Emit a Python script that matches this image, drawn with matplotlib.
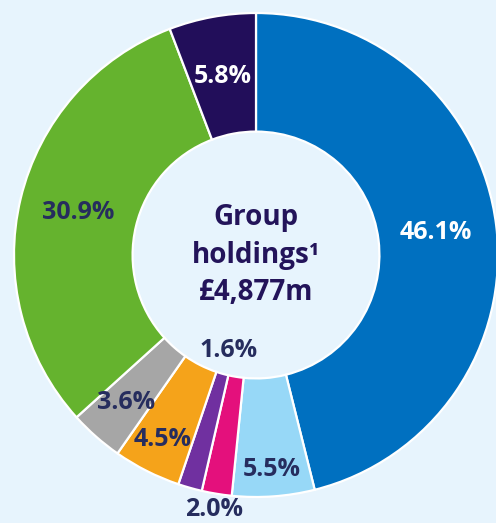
import numpy as np
import matplotlib
matplotlib.use("Agg")
import matplotlib.pyplot as plt

# share of group holdings, clockwise from 12 o'clock
shares = [46.1, 5.5, 2.0, 1.6, 4.5, 3.6, 30.9, 5.8]
pct_labels = ["46.1%", "5.5%", "2.0%", "1.6%", "4.5%", "3.6%", "30.9%", "5.8%"]
colours = ["#0070c0", "#97d8f7", "#e4107c", "#7030a0", "#f5a31a", "#a6a6a6", "#65b32e", "#220e5a"]
label_colours = ["white", "#262d5e", "#262d5e", "#262d5e", "#262d5e", "#262d5e", "#262d5e", "white"]
label_radius = [0.75, 0.89, 1.065, 0.41, 0.855, 0.81, 0.755, 0.75]
centre_text = "Group\nholdings\u00b9\n\u00a34,877m"

bg = "#e7f4fd"

fig = plt.figure(figsize=(4.96, 5.23), dpi=100, facecolor=bg)
ax = fig.add_axes([14 / 496, 26 / 523, 484 / 496, 484 / 523])
ax.set_facecolor(bg)

wedges, _ = ax.pie(shares, colors=colours, startangle=90, counterclock=False,
                   radius=1.0, wedgeprops=dict(width=0.49, edgecolor="white", linewidth=1.6))

total = sum(shares)
cum = 0
for val, lab, col, r in zip(shares, pct_labels, label_colours, label_radius):
    mid = cum + val / 2
    ang = np.deg2rad(90 - mid / total * 360)
    ax.text(r * np.cos(ang), r * np.sin(ang), lab, color=col, ha="center", va="center",
            fontsize=18, fontweight="bold", family=["Open Sans", "DejaVu Sans"])
    cum += val

ax.text(0, 0.0, centre_text, ha="center", va="center", color="#23145a",
        fontsize=20, fontweight="bold", linespacing=1.38, family=["Open Sans", "DejaVu Sans"])

ax.set_xlim(-1, 1)
ax.set_ylim(-1, 1)
ax.set_aspect("equal")
ax.axis("off")

fig.savefig("out.png", dpi=100, facecolor=bg)
